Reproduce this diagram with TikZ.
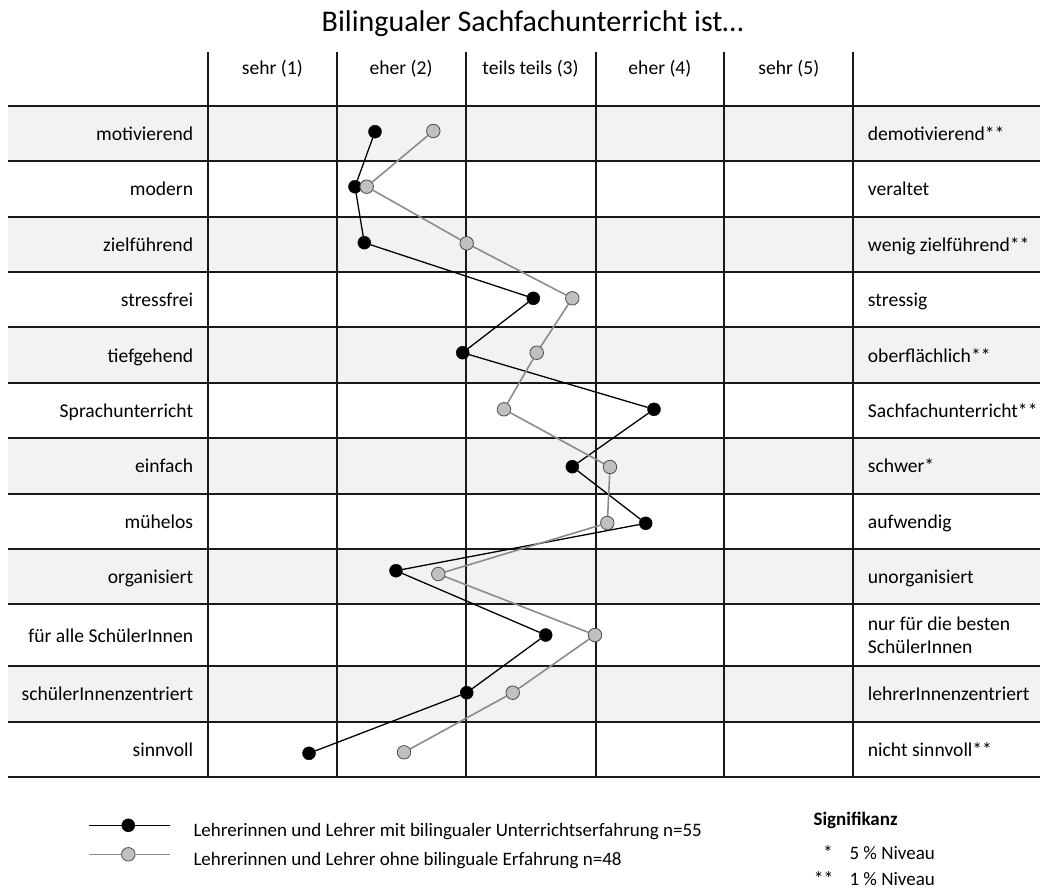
\documentclass[tikz,border=0pt]{standalone}
\usepackage{fontspec}
\setmainfont{Carlito}
\definecolor{shadecol}{HTML}{F2F2F2}
\definecolor{dotgray}{HTML}{C0C0C0}
\definecolor{linegray}{HTML}{8C8C8C}
\begin{document}
\begin{tikzpicture}[x=1pt,y=-1pt,
  lab/.style={font=\fontsize{19.6}{23}\selectfont, inner sep=0pt},
  leglab/.style={font=\fontsize{19}{23}\selectfont, inner sep=0pt, anchor=base west},
  leftlab/.style={lab, anchor=base east},
  rightlab/.style={lab, anchor=base west},
  headlab/.style={lab, anchor=base},
  gridline/.style={line width=2pt, draw=black!90},
  shaderow/.style={fill=shadecol, draw=none},
  bdot/.style={circle, fill=black, draw=black, minimum size=13pt, inner sep=0pt},
  gdot/.style={circle, fill=dotgray, draw=black!70, line width=0.8pt, minimum size=13.5pt, inner sep=0pt},
  bline/.style={line width=1.3pt, draw=black},
  gline/.style={line width=1.6pt, draw=linegray}]
\useasboundingbox (0,0) rectangle (1040,888);

% title
\node[font=\fontsize{30}{36}\selectfont, inner sep=0pt, anchor=base] (title) at (532.5,31.7) {Bilingualer Sachfachunterricht ist…};

% shaded rows
\foreach \ya/\yb in {105.7/161, 216.5/272, 327.3/382.7, 438.3/493.5, 549/604.3, 666/721.7}
  \fill[shaderow] (8,\ya) rectangle (1040,\yb);

% grid
\foreach \y in {105.7,161,216.5,272,327.3,382.7,438.3,493.5,549,604.3,666,721.7,776.7}
  \draw[gridline] (8,\y) -- (1040,\y);
\foreach \x in {208,336.7,465.5,595.5,724.3,853.3}
  \draw[gridline] (\x,52) -- (\x,776.7);

% header
\node[headlab] (h1) at (272.3,75) {sehr (1)};
\node[headlab] (h2) at (401.1,75) {eher (2)};
\node[headlab] (h3) at (530.5,75) {teils teils (3)};
\node[headlab] (h4) at (659.9,75) {eher (4)};
\node[headlab] (h5) at (788.8,75) {sehr (5)};

% left labels
\node[leftlab] (l1) at (193.3,140.4) {motivierend};
\node[leftlab] (l2) at (193.3,195.8) {modern};
\node[leftlab] (l3) at (193.3,251.3) {zielführend};
\node[leftlab] (l4) at (193.3,306.7) {stressfrei};
\node[leftlab] (l5) at (193.3,362.0) {tiefgehend};
\node[leftlab] (l6) at (193.3,417.5) {Sprachunterricht};
\node[leftlab] (l7) at (193.3,472.9) {einfach};
\node[leftlab] (l8) at (193.3,528.3) {mühelos};
\node[leftlab] (l9) at (193.3,583.7) {organisiert};
\node[leftlab] (l10) at (193.3,642.2) {für alle SchülerInnen};
\node[leftlab] (l11) at (193.3,700.9) {schülerInnenzentriert};
\node[leftlab] (l12) at (193.3,756.5) {sinnvoll};

% right labels
\node[rightlab] (r1) at (867.7,140.4) {demotivierend**};
\node[rightlab] (r2) at (867.7,195.8) {veraltet};
\node[rightlab] (r3) at (867.7,251.3) {wenig zielführend**};
\node[rightlab] (r4) at (867.7,306.7) {stressig};
\node[rightlab] (r5) at (867.7,362.0) {oberflächlich**};
\node[rightlab] (r6) at (867.7,417.5) {Sachfachunterricht**};
\node[rightlab] (r7) at (867.7,472.9) {schwer*};
\node[rightlab] (r8) at (867.7,528.3) {aufwendig};
\node[rightlab] (r9) at (867.7,583.7) {unorganisiert};
\node[rightlab] (r10a) at (867.7,630) {nur für die besten};
\node[rightlab] (r10b) at (867.7,653.3) {SchülerInnen};
\node[rightlab] (r11) at (867.7,700.9) {lehrerInnenzentriert};
\node[rightlab] (r12) at (867.7,756.5) {nicht sinnvoll**};

% series with experience (black)
\foreach \x/\y [count=\i] in {375/131.7, 355/186.7, 364.3/242.7, 533.3/298.3, 462.7/352.7, 654/409.3, 572.3/466.7, 645.7/523.3, 396/570.7, 545.7/635, 466.7/692.7, 309/753.3}
  \node[bdot] (b\i) at (\x,\y) {};
\foreach \i [evaluate=\i as \j using int(\i+1)] in {1,...,11}
  \draw[bline] (b\i) -- (b\j);

% series without experience (gray)
\foreach \x/\y [count=\i] in {433.3/131, 366.7/186.7, 466.7/243.3, 572.3/298.3, 536.7/352.7, 504/409.3, 610/467, 607.3/523, 438.3/574, 595/635, 512.7/692.7, 404/752.3}
  \node[gdot] (g\i) at (\x,\y) {};
\foreach \i [evaluate=\i as \j using int(\i+1)] in {1,...,11}
  \draw[gline] (g\i) -- (g\j);

% legend
\coordinate (lba) at (89,825.3);
\coordinate (lbb) at (170,825.3);
\node[bdot] (lb) at (128.3,825.3) {};
\draw[bline] (lba) -- (lb);
\draw[bline] (lb) -- (lbb);
\node[leglab] (lbt) at (193.3,836) {Lehrerinnen und Lehrer mit bilingualer Unterrichtserfahrung n=55};
\coordinate (lga) at (89,854.3);
\coordinate (lgb) at (170,854.3);
\node[gdot] (lg) at (128.3,854.3) {};
\draw[gline] (lga) -- (lg);
\draw[gline] (lg) -- (lgb);
\node[leglab] (lgt) at (193.3,865) {Lehrerinnen und Lehrer ohne bilinguale Erfahrung n=48};

% significance
\node[leglab, font=\fontsize{19}{23}\selectfont\bfseries] (sig) at (813.3,825.7) {Signifikanz};
\node[lab, anchor=base] (s1) at (828,859.5) {*};
\node[leglab] (s1t) at (849.3,859.5) {5 \% Niveau};
\node[lab, anchor=base] (s2) at (823.5,885) {**};
\node[leglab] (s2t) at (849.3,885) {1 \% Niveau};
\end{tikzpicture}
\end{document}
